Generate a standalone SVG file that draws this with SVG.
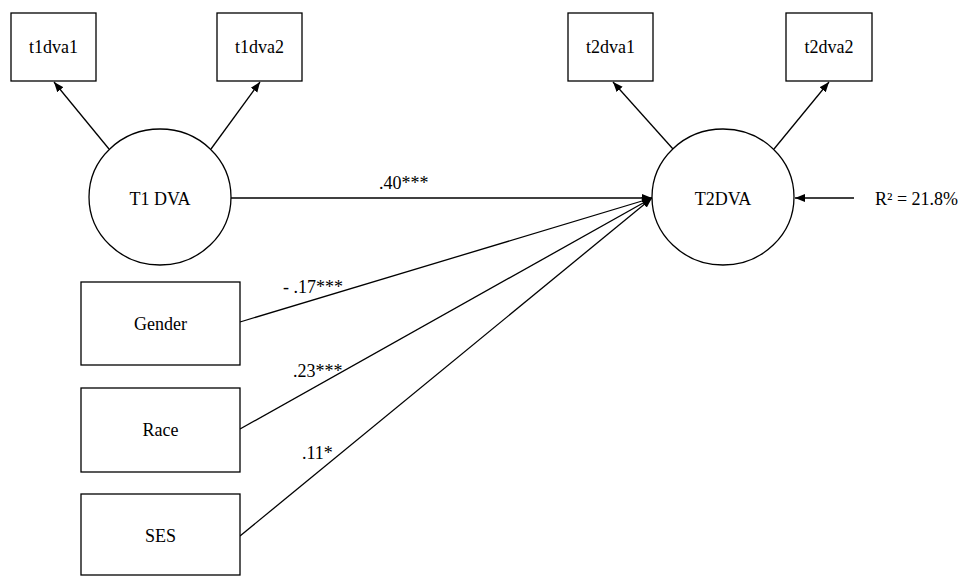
<svg xmlns="http://www.w3.org/2000/svg" width="958" height="576" viewBox="0 0 958 576">
<style>
.box{fill:#fff;stroke:#000;stroke-width:1.3}
.lat{fill:#fff;stroke:#000;stroke-width:1.3}
.lbl{font-size:18px;fill:#000}
.coef{font-size:18px;fill:#000}
.edge{stroke:#000;stroke-width:1.3;fill:none;marker-end:url(#ah)}
</style>
<defs>
<marker id="ah" viewBox="0 0 10 10" refX="10" refY="5" markerWidth="10" markerHeight="10" markerUnits="userSpaceOnUse" orient="auto">
<path d="M0,1 L10,5 L0,9 z" fill="#000"/>
</marker>
</defs>
<rect width="958" height="576" fill="#fff"/>
<g font-family="'Liberation Serif', 'Times New Roman', serif">
<g id="connectors">
<line class="edge" x1="109" y1="149" x2="54" y2="82"/>
<line class="edge" x1="211" y1="149" x2="260" y2="82"/>
<line class="edge" x1="673" y1="149" x2="613" y2="82"/>
<line class="edge" x1="774" y1="149" x2="829" y2="82"/>
<line class="edge" x1="231" y1="198" x2="652" y2="198"/>
<line class="edge" x1="240" y1="322" x2="652" y2="198"/>
<line class="edge" x1="240" y1="429" x2="652" y2="198"/>
<line class="edge" x1="240" y1="536" x2="652" y2="198"/>
<line class="edge" x1="854" y1="198" x2="795" y2="198"/>
<text class="coef" x="379" y="189">.40***</text>
<text class="coef" x="283" y="293">- .17***</text>
<text class="coef" x="293" y="377">.23***</text>
<text class="coef" x="302" y="459">.11*</text>
</g>
<g id="t1dva1"><rect class="box" x="11" y="13" width="85" height="68"/><text class="lbl" x="53.5" y="53" text-anchor="middle">t1dva1</text></g>
<g id="t1dva2"><rect class="box" x="217" y="13" width="85" height="68"/><text class="lbl" x="259.5" y="53" text-anchor="middle">t1dva2</text></g>
<g id="t2dva1"><rect class="box" x="568" y="13" width="85" height="68"/><text class="lbl" x="610.5" y="53" text-anchor="middle">t2dva1</text></g>
<g id="t2dva2"><rect class="box" x="786" y="13" width="86" height="68"/><text class="lbl" x="829" y="53" text-anchor="middle">t2dva2</text></g>
<g id="T1DVA"><ellipse class="lat" cx="160" cy="197" rx="71" ry="68"/><text class="lbl" x="160" y="205" text-anchor="middle">T1 DVA</text></g>
<g id="T2DVA"><ellipse class="lat" cx="723" cy="197" rx="71" ry="68"/><text class="lbl" x="723" y="205" text-anchor="middle">T2DVA</text></g>
<g id="R2"><text class="lbl" x="875" y="205">R² = 21.8%</text></g>
<g id="Gender"><rect class="box" x="81" y="282" width="159" height="83"/><text class="lbl" x="160.5" y="330" text-anchor="middle">Gender</text></g>
<g id="Race"><rect class="box" x="81" y="388" width="159" height="84"/><text class="lbl" x="160.5" y="436" text-anchor="middle">Race</text></g>
<g id="SES"><rect class="box" x="81" y="494" width="159" height="81"/><text class="lbl" x="160.5" y="542" text-anchor="middle">SES</text></g>
</g>
</svg>
